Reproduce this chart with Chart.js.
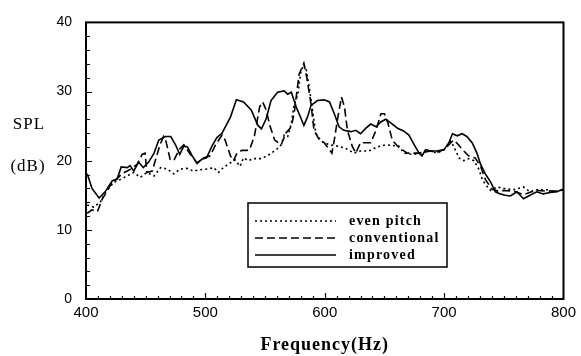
<!DOCTYPE html>
<html>
<head>
<meta charset="utf-8">
<script src="https://cdn.jsdelivr.net/npm/chart.js@4/dist/chart.umd.min.js"></script>
<style>
  html, body { margin: 0; padding: 0; background: #fff; }
  #wrap { width: 581px; height: 356px; position: relative; }
</style>
</head>
<body>
<div id="wrap"><canvas id="chart"></canvas></div>
<script>
// values
const xTicks = [400, 500, 600, 700, 800];
const yTicks = [0, 10, 20, 30, 40];

const evenFreq = [401, 406.5, 412, 416.5, 423.5, 429, 434.5, 440, 445.5, 451, 457, 462.5, 468, 473.5, 479, 484.5, 490, 496, 501.5, 507, 511, 515, 521, 525, 529, 532, 536, 540, 547, 553.5, 559.5, 563.5, 566, 569, 572, 574.5, 577.5, 580, 582.5, 584.5, 587, 590, 592.5, 597, 604, 611, 617.5, 624.5, 630, 637, 644, 651, 656.5, 662, 666.5, 673.5, 680.5, 687.5, 694, 700, 705.5, 708, 712.5, 716.5, 720.5, 725, 729, 732, 734.5, 739, 744.5, 750, 758, 766.5, 772, 777.5, 786, 793, 800];
const evenSPL = [13.6, 13.3, 14.0, 15.5, 16.9, 17.3, 17.8, 18.3, 17.6, 18.3, 17.8, 19.0, 18.8, 18.1, 18.8, 18.9, 18.5, 18.7, 18.8, 19.0, 18.3, 19.0, 19.7, 20.1, 19.2, 20.4, 20.0, 20.3, 20.3, 20.9, 21.6, 22.3, 23.7, 23.5, 25.4, 28.2, 29.6, 32.9, 33.9, 33.2, 30.6, 27.0, 24.0, 22.8, 22.3, 22.1, 21.8, 21.1, 21.4, 21.4, 22.0, 22.3, 22.2, 22.1, 21.1, 20.9, 21.1, 21.4, 21.1, 21.6, 22.8, 22.1, 20.4, 20.0, 20.3, 20.0, 18.8, 17.3, 16.6, 15.7, 16.2, 16.0, 15.8, 16.2, 15.5, 15.8, 15.8, 15.5, 15.8];

const convFreq = [401, 405, 409.5, 413.5, 418, 422, 426, 430, 434.5, 438.5, 443, 447, 449.5, 451, 455.5, 458, 462, 465, 467, 470.5, 473.5, 478, 482, 487.5, 493, 498.5, 504, 508.5, 514, 516.5, 521, 523.5, 526.5, 530.5, 535, 537, 541, 545.5, 548, 551, 554, 558, 563.5, 567.5, 572, 574.5, 578.5, 582.5, 585, 588.5, 591, 595.5, 599.5, 604, 606, 608, 611, 614, 616.5, 619, 623, 626, 630, 634.5, 638.5, 643, 647, 650, 653, 656.5, 661, 665, 669, 672, 677.5, 683, 688.5, 694, 700, 704, 708, 712, 716.5, 720.5, 726, 730.5, 734.5, 740, 745, 750, 758, 766.5, 776.5, 786, 794.5, 800];
const convSPL = [12.4, 12.9, 12.6, 14.4, 15.7, 16.9, 17.4, 18.1, 18.5, 18.9, 19.5, 20.9, 21.1, 18.3, 18.5, 20.0, 22.3, 23.5, 22.8, 20.2, 20.0, 21.6, 22.3, 20.9, 19.7, 20.4, 20.7, 22.3, 23.7, 23.0, 20.7, 20.0, 21.1, 21.5, 21.5, 21.6, 23.5, 27.8, 28.5, 27.3, 25.1, 23.0, 22.3, 24.0, 24.9, 27.0, 32.5, 34.1, 32.0, 28.2, 24.4, 23.0, 22.6, 21.6, 21.1, 23.0, 26.3, 29.2, 27.8, 24.4, 22.1, 21.1, 22.6, 22.6, 22.6, 24.4, 26.8, 26.8, 25.4, 23.0, 22.1, 21.6, 21.1, 21.1, 21.1, 21.2, 21.4, 21.2, 21.6, 22.3, 23.0, 22.3, 21.4, 20.7, 20.4, 19.2, 17.3, 15.9, 15.6, 15.7, 15.6, 15.1, 15.7, 15.6, 15.6, 15.8];

const impFreq = [401, 405, 411, 416, 422, 426, 429.5, 434.5, 437, 440, 444, 448, 452.5, 457, 461, 466.5, 471, 475, 478.5, 482, 485, 489, 493, 497, 501, 505.5, 509.5, 514, 521, 526, 532, 538.5, 544, 547, 551, 555, 560.5, 566, 569, 572, 576, 579, 582.5, 585.5, 588.5, 594, 599.5, 604, 608, 612, 616, 622, 626, 630, 634.5, 638.5, 643, 647, 651, 655, 661, 666, 670.5, 675, 679, 681.5, 684.5, 689, 694, 700, 704, 707, 711, 715, 719, 723.5, 727.5, 730.5, 734.5, 739, 743, 747, 751, 755.5, 761, 766.5, 772, 777.5, 783, 789, 794.5, 800];
const impSPL = [18.1, 16.0, 14.6, 15.5, 17.1, 17.3, 19.1, 19.0, 19.3, 18.5, 19.8, 19.0, 19.8, 21.1, 23.0, 23.5, 23.5, 22.3, 20.9, 22.1, 22.0, 20.7, 19.6, 20.2, 20.4, 22.1, 23.3, 24.0, 26.3, 28.8, 28.5, 27.3, 25.1, 24.6, 26.1, 28.7, 29.9, 30.1, 29.6, 29.9, 27.8, 26.6, 25.1, 26.3, 28.0, 28.7, 28.8, 28.5, 26.8, 24.9, 24.4, 24.2, 24.4, 23.9, 24.7, 25.3, 24.9, 25.6, 26.0, 25.5, 24.7, 24.3, 23.7, 22.3, 21.1, 20.7, 21.6, 21.4, 21.4, 21.6, 22.6, 23.9, 23.6, 23.9, 23.5, 22.6, 21.1, 19.5, 18.1, 16.9, 15.5, 15.2, 15.0, 14.9, 15.5, 14.5, 15.0, 15.5, 15.2, 15.4, 15.5, 15.9];

const seriesLabels = ['even pitch', 'conventional', 'improved'];

function pts(xs, ys) {
  return xs.map((x, i) => ({ x: x, y: ys[i] }));
}

// frame, inward ticks, side labels, x title and boxed legend
const decorations = {
  id: 'decorations',
  afterDraw(chart) {
    const ctx = chart.ctx;
    const a = chart.chartArea;
    const xs = chart.scales.x, ys = chart.scales.y;
    ctx.save();
    ctx.strokeStyle = '#000';
    ctx.lineWidth = 2;
    ctx.strokeRect(a.left, a.top, a.right - a.left, a.bottom - a.top);

    ctx.lineWidth = 1.2;
    ctx.beginPath();
    for (let v = 2; v < 40; v += 2) {
      const y = Math.round(ys.getPixelForValue(v)) + 0.5;
      const len = v % 10 === 0 ? 6 : 4;
      ctx.moveTo(a.left, y); ctx.lineTo(a.left + len, y);
    }
    for (let f = 410; f < 800; f += 10) {
      const x = Math.round(xs.getPixelForValue(f)) + 0.5;
      const len = f % 100 === 0 ? 6 : 3;
      ctx.moveTo(x, a.bottom); ctx.lineTo(x, a.bottom - len);
    }
    ctx.stroke();

    ctx.fillStyle = '#000';
    ctx.textBaseline = 'middle';
    ctx.letterSpacing = '1px';
    ctx.font = '17px "Liberation Serif", serif';
    ctx.textAlign = 'center';
    ctx.fillText('SPL', 29, 125);
    ctx.fillText('(dB)', 28, 167);

    ctx.font = 'bold 18px "Liberation Serif", serif';
    ctx.fillText('Frequency(Hz)', (a.left + a.right) / 2, 345);

    // legend box
    const bx = 248, by = 203, bw = 199, bh = 64;
    ctx.fillStyle = '#fff';
    ctx.fillRect(bx, by, bw, bh);
    ctx.lineWidth = 1.5;
    ctx.strokeRect(bx, by, bw, bh);
    ctx.font = 'bold 14px "Liberation Serif", serif';
    ctx.letterSpacing = '1.2px';
    ctx.textAlign = 'left';
    chart.data.datasets.forEach((ds, i) => {
      const y = 221 + i * 17;
      ctx.beginPath();
      ctx.setLineDash(ds.borderDash || []);
      ctx.lineWidth = 1.3;
      ctx.moveTo(255, y); ctx.lineTo(336, y);
      ctx.stroke();
      ctx.setLineDash([]);
      ctx.fillStyle = '#000';
      ctx.fillText(ds.label, 349, y);
    });
    ctx.restore();
  }
};

new Chart(document.getElementById('chart'), {
  type: 'line',
  data: {
    datasets: [
      { label: seriesLabels[0], data: pts(evenFreq, evenSPL), borderDash: [2, 3] },
      { label: seriesLabels[1], data: pts(convFreq, convSPL), borderDash: [8, 4] },
      { label: seriesLabels[2], data: pts(impFreq, impSPL), borderDash: [] }
    ].map(d => Object.assign(d, {
      borderColor: '#000', borderWidth: 1.6, pointRadius: 0, fill: false, tension: 0
    }))
  },
  options: {
    responsive: true,
    maintainAspectRatio: false,
    animation: false,
    layout: { padding: { top: 17, right: 16, left: 0, bottom: 0 } },
    plugins: { legend: { display: false }, tooltip: { enabled: false } },
    scales: {
      x: {
        type: 'linear', min: 400, max: 800,
        afterFit(s) { s.height = 57; },
        afterBuildTicks(s) { s.ticks = xTicks.map(v => ({ value: v })); },
        grid: { display: false, drawTicks: false },
        border: { display: false },
        ticks: { color: '#000', padding: 5, font: { family: '"Liberation Sans", sans-serif', size: 15 } },
        title: { display: false }
      },
      y: {
        min: 0, max: 40,
        afterFit(s) { s.width = 86; },
        afterBuildTicks(s) { s.ticks = yTicks.map(v => ({ value: v })); },
        grid: { display: false, drawTicks: false },
        border: { display: false },
        ticks: { color: '#000', padding: 14, font: { family: '"Liberation Sans", sans-serif', size: 14 } }
      }
    }
  },
  plugins: [decorations]
});
</script>
</body>
</html>
